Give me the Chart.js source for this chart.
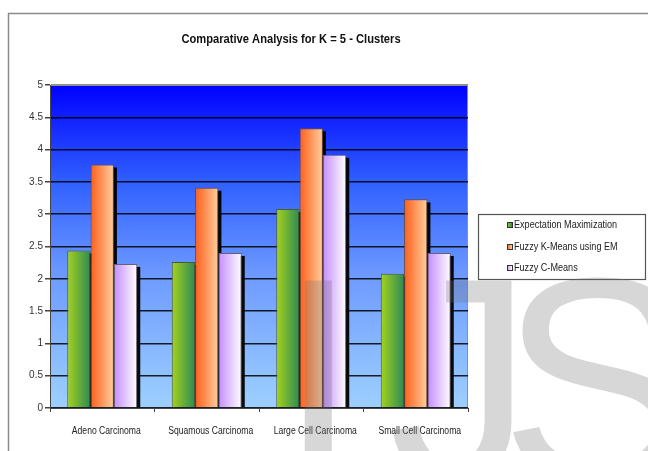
<!DOCTYPE html>
<html>
<head>
<meta charset="utf-8">
<script src="https://cdn.jsdelivr.net/npm/chart.js@4.4.1/dist/chart.umd.min.js"></script>
<style>
  html, body { margin: 0; padding: 0; background: #fff; }
  #wrap { width: 648px; height: 451px; position: relative; }
</style>
</head>
<body>
<div id="wrap"><canvas id="chart"></canvas></div>
<script>
    //------------------------------------------Data------------------------------------------
    const categories = ['Adeno Carcinoma', 'Squamous Carcinoma', 'Large Cell Carcinoma', 'Small Cell Carcinoma'];
    const seriesNames = ['Expectation Maximization', 'Fuzzy K-Means using EM', 'Fuzzy C-Means'];
    const emValues = [2.44, 2.26, 3.08, 2.08];
    const fkmValues = [3.77, 3.41, 4.33, 3.23];
    const fcmValues = [2.23, 2.40, 3.92, 2.40];
    const yTickValues = [0, 0.5, 1, 1.5, 2, 2.5, 3, 3.5, 4, 4.5, 5];
    const titleText = 'Comparative Analysis for K = 5 - Clusters';
    const watermarkLetters = ['I', 'J', 'S'];

    // left / right colour of each series' horizontal gradient
    const seriesGradients = [
        ['#a6d21c', '#2c8a55'],
        ['#ff5e1a', '#ffcf9e'],
        ['#c48cff', '#ffffff']
    ];
    const seriesBorders = ['#4a5a3a', '#6a4a3a', '#6a6070'];

    const arial = "'Liberation Sans', Arial, sans-serif";

    //------------------------------------------Helpers------------------------------------------

    // the reference uses a narrow face, which is not installed: squeeze Arial sideways
    function narrowText(ctx, text, x, y, squeeze, align) {
        ctx.save();
        ctx.translate(x, y);
        ctx.scale(squeeze, 1);
        ctx.textAlign = align || 'left';
        ctx.fillText(text, 0, 0);
        ctx.restore();
    }

    function barGradient(ctx, el, stops) {
        let g = ctx.createLinearGradient(el.x - el.width / 2, 0, el.x + el.width / 2, 0);
        g.addColorStop(0, stops[0]);
        g.addColorStop(1, stops[1]);
        return g;
    }

    //------------------------------------------Plugins------------------------------------------

    const backgroundPlugin = {
        id: 'backgroundPlugin',
        beforeDraw(chart) {
            let ctx = chart.ctx, a = chart.chartArea;
            ctx.save();
            ctx.fillStyle = '#fff';
            ctx.fillRect(0, 0, chart.width, chart.height);
            // outer frame
            ctx.strokeStyle = '#8a8a8a';
            ctx.lineWidth = 1.5;
            ctx.strokeRect(8.5, 13.5, chart.width + 20, chart.height + 20);
            // plot area gradient
            let g = ctx.createLinearGradient(0, a.top, 0, a.bottom);
            g.addColorStop(0, '#0000ff');
            g.addColorStop(0.3, '#3060ff');
            g.addColorStop(0.6, '#6f9cff');
            g.addColorStop(1, '#9dd0ff');
            ctx.fillStyle = g;
            ctx.fillRect(a.left, a.top, a.right - a.left, a.bottom - a.top);
            ctx.strokeStyle = '#909090';
            ctx.lineWidth = 1;
            ctx.strokeRect(a.left + 0.5, a.top + 0.5, a.right - a.left - 1, a.bottom - a.top);
            // title
            ctx.fillStyle = '#111';
            ctx.font = 'bold 12px ' + arial;
            ctx.textBaseline = 'middle';
            narrowText(ctx, titleText, (a.left + a.right) / 2 + 32, 40, 0.93, 'center');
            ctx.restore();
        }
    };

    const barStylePlugin = {
        id: 'barStylePlugin',
        beforeDatasetsDraw(chart) {
            let ctx = chart.ctx;
            ctx.save();
            ctx.fillStyle = 'rgba(0,0,0,0.95)';
            chart.data.datasets.forEach(function (ds, i) {
                let meta = chart.getDatasetMeta(i);
                meta.data.forEach(function (el) {
                    // drop shadow
                    ctx.fillRect(el.x - el.width / 2 + 3, el.y + 3, el.width, el.base - el.y - 3);
                    el.options = Object.assign({}, el.options, {
                        backgroundColor: barGradient(ctx, el, seriesGradients[i])
                    });
                });
            });
            ctx.restore();
        },
        afterDatasetsDraw(chart) {
            // category labels, squeezed to look like the narrow face of the original
            let ctx = chart.ctx, xs = chart.scales.x;
            ctx.save();
            ctx.fillStyle = '#222';
            ctx.font = '10px ' + arial;
            ctx.textBaseline = 'middle';
            categories.forEach(function (c, i) {
                narrowText(ctx, c, xs.getPixelForValue(i) + 4, xs.top + 23, 0.86, 'center');
            });
            ctx.restore();
        }
    };

    const legendBoxPlugin = {
        id: 'legendBoxPlugin',
        afterDraw(chart) {
            let ctx = chart.ctx;
            let x = 478, y = 214, w = 167, h = 65;
            ctx.save();
            ctx.fillStyle = '#fff';
            ctx.fillRect(x, y, w, h);
            ctx.strokeStyle = '#555';
            ctx.lineWidth = 1.2;
            ctx.strokeRect(x + 0.5, y + 0.5, w, h);
            ctx.font = '10px ' + arial;
            ctx.textBaseline = 'middle';
            let rows = [225, 247, 268];
            seriesNames.forEach(function (name, i) {
                let g = ctx.createLinearGradient(507, 0, 512, 0);
                g.addColorStop(0, seriesGradients[i][0]);
                g.addColorStop(1, seriesGradients[i][1]);
                ctx.fillStyle = g;
                ctx.fillRect(507, rows[i] - 3, 5, 5);
                ctx.strokeStyle = '#333';
                ctx.lineWidth = 1;
                ctx.strokeRect(507.5, rows[i] - 2.5, 5, 5);
                ctx.fillStyle = '#222';
                narrowText(ctx, name, 514, rows[i], 0.91, 'left');
            });
            ctx.restore();
        }
    };

    const watermarkPlugin = {
        id: 'watermarkPlugin',
        afterDraw(chart) {
            let ctx = chart.ctx;
            let xs = [278, 388, 500];
            ctx.save();
            ctx.font = '290px ' + arial;
            ctx.textBaseline = 'alphabetic';
            ctx.fillStyle = 'rgba(110,110,110,0.28)';
            watermarkLetters.forEach(function (l, i) {
                ctx.fillText(l, xs[i], 480);
            });
            ctx.restore();
        }
    };

    //------------------------------------------Chart------------------------------------------

    function makeDataset(i, values) {
        return {
            label: seriesNames[i],
            data: values,
            backgroundColor: seriesGradients[i][0],
            borderColor: seriesBorders[i],
            borderWidth: 1,
            categoryPercentage: 0.67,
            barPercentage: 1.0
        };
    }

    const ctx = document.getElementById('chart');
    const myChart = new Chart(ctx, {
        type: 'bar',
        data: {
            labels: categories,
            datasets: [makeDataset(0, emValues), makeDataset(1, fkmValues), makeDataset(2, fcmValues)]
        },
        options: {
            responsive: true,
            maintainAspectRatio: false,
            animation: false,
            devicePixelRatio: 1,
            layout: { padding: { left: 0, right: 180, top: 85, bottom: 0 } },
            plugins: {
                legend: { display: false },
                tooltip: { enabled: false },
                title: { display: false }
            },
            scales: {
                x: {
                    grid: { display: true, drawOnChartArea: false, tickLength: 4, color: '#444' },
                    border: { color: '#444', width: 1 },
                    ticks: { display: false },
                    afterFit: function (scale) { scale.height = 43; }
                },
                y: {
                    min: 0,
                    max: 5,
                    afterBuildTicks: function (scale) {
                        scale.ticks = yTickValues.map(function (v) { return { value: v }; });
                    },
                    grid: {
                        color: function (c) { return c.tick && c.tick.value === 5 ? '#909090' : 'rgba(0,0,0,0.85)'; },
                        lineWidth: 1.5,
                        tickLength: 5,
                        tickColor: '#444'
                    },
                    border: { color: '#444', width: 1 },
                    ticks: {
                        color: '#333',
                        font: { family: arial, size: 10 },
                        padding: 2,
                        callback: function (v) { return v; }
                    },
                    afterFit: function (scale) { scale.width = 50; }
                }
            }
        },
        plugins: [backgroundPlugin, barStylePlugin, legendBoxPlugin, watermarkPlugin]
    });
</script>
</body>
</html>
